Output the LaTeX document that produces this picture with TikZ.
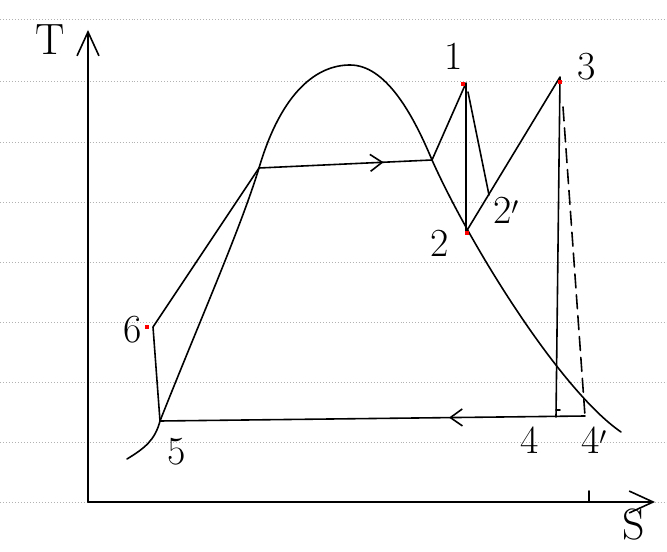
\documentclass[tikz,border=0pt]{standalone}
\usepackage{tikz}
\usetikzlibrary{arrows.meta, calc, decorations.markings}

\tikzset{
  ruled/.style={gray!60, dotted, line width=1pt},
  pen/.style={line width=1.6pt, line cap=round, line join=round},
  axisbarb/.style={-{Straight Barb[length=24pt,width=22pt,line width=1.6pt]}},
  flowmark/.style={postaction={decorate},
    decoration={markings, mark=at position #1 with {\arrow{Straight Barb[length=12pt,width=17pt,line width=1.6pt]}}}},
  statedot/.style={fill=red, minimum size=5pt, inner sep=0pt},
  lbl/.style={font=\fontsize{40}{42}\selectfont, inner sep=0pt},
  biglbl/.style={font=\fontsize{44}{46}\selectfont, inner sep=0pt},
}

\begin{document}
\begin{tikzpicture}[x=1bp, y=-1bp]
  \useasboundingbox (0,0) rectangle (667,552);

  % lined paper
  \foreach \y in {20,82,142,202,262,322,382,442,502}
    \draw[ruled] (0,\y) -- (667,\y);

  % axes
  \coordinate (O) at (88,502);
  \coordinate (Ttop) at (88,30);
  \coordinate (Send) at (655,502);
  \draw[pen, axisbarb] (O) -- (Ttop);
  \draw[pen, axisbarb] (O) -- (Send);
  \node[biglbl] (labT) at (50,40) {T};
  \node[biglbl] (labS) at (634,525) {S};

  % state points
  \coordinate (p1) at (466,83);
  \coordinate (p2) at (466,232);
  \coordinate (p2p) at (489,195);
  \coordinate (p3) at (560,77);
  \coordinate (p4) at (556,417);
  \coordinate (p4p) at (585,416);
  \coordinate (p5) at (160,421);
  \coordinate (p6) at (153,327);
  \coordinate (sl) at (259,168);   % saturated liquid
  \coordinate (sv) at (432,160);   % saturated vapour

  % saturation dome
  \draw[pen] (127,459) .. controls (145,448) and (155,440) .. (p5)
    .. controls (200,320) and (240,230) .. (sl)
    .. controls (282,90) and (318,65) .. (350,65)
    .. controls (385,65) and (412,112) .. (sv)
    .. controls (470,245) and (560,390) .. (621,432);

  % cycle
  \draw[pen] (p5) -- (p6) -- (sl);
  \draw[pen, flowmark=0.72] (sl) -- (sv);
  \draw[pen] (sv) -- (p1) -- (p2) -- (p3) -- (p4);
  \draw[pen] ($(p1)+(2,9)$) -- (p2p);
  \draw[pen, dashed, dash pattern=on 14pt off 7pt] (563,107) -- (p4p);
  \draw[pen, flowmark=0.32] (p4p) -- (p5);
  \draw[pen] ($(p4)+(0,-7)$) -- ++(4,0);
  \draw[pen] (589,491) -- (589,502);

  % red dots
  \node[statedot] (d1) at (463,84) {};
  \node[statedot] (d2) at (467,233) {};
  \node[statedot] (d3) at (560,82) {};
  \node[statedot] (d6) at (147,327) {};

  % labels
  \node[lbl] (lab1) at (454,56) {1};
  \node[lbl] (lab2) at (440,243) {2};
  \node[lbl] (lab2p) at (506,210) {2$'$};
  \node[lbl] (lab3) at (587,67) {3};
  \node[lbl] (lab4) at (530,440) {4};
  \node[lbl] (lab4p) at (594,440) {4$'$};
  \node[lbl] (lab5) at (177,452) {5};
  \node[lbl] (lab6) at (133,330) {6};
\end{tikzpicture}
\end{document}
